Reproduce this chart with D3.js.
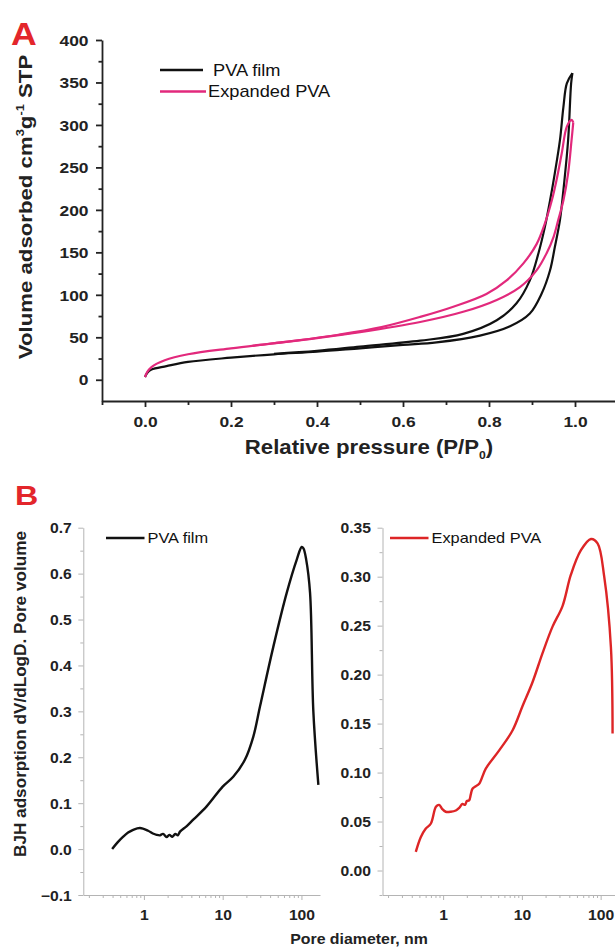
<!DOCTYPE html>
<html><head><meta charset="utf-8">
<script src="https://cdn.jsdelivr.net/npm/d3@7"></script>
<style>body{margin:0;background:#fff}svg{display:block}</style>
</head><body><svg id="c" width="615" height="949"></svg>
<script>
// ---- Panel A: N2 isotherms (P/P0, volume adsorbed) ----
const filmAdsP = [0, 0.005, 0.015, 0.05, 0.1, 0.2, 0.3, 0.4, 0.5, 0.6, 0.678, 0.779, 0.849, 0.895, 0.922, 0.942, 0.953, 0.965, 0.973, 0.984, 0.991, 0.994];
const filmAdsV = [3, 8, 12, 16, 21, 26, 30, 33, 37, 41, 44, 52, 63, 78, 101, 129, 156, 188, 223, 282, 349, 361];
const filmDesP = [0.3, 0.4, 0.5, 0.64, 0.74, 0.818, 0.864, 0.895, 0.915, 0.93, 0.942, 0.953, 0.965, 0.973, 0.981, 0.994];
const filmDesV = [30.5, 34, 39, 46, 54, 70, 90, 117, 149, 180, 211, 243, 282, 321, 349, 361];
const expAdsP = [0, 0.005, 0.015, 0.046, 0.1, 0.2, 0.3, 0.4, 0.5, 0.64, 0.74, 0.818, 0.872, 0.911, 0.934, 0.95, 0.961, 0.973, 0.984, 0.992, 0.996];
const expAdsV = [3, 9, 15, 23, 30, 37, 43, 49, 56, 68, 80, 94, 109, 129, 149, 168, 188, 211, 243, 282, 303];
const expDesP = [0.25, 0.35, 0.45, 0.55, 0.64, 0.717, 0.794, 0.841, 0.88, 0.911, 0.93, 0.946, 0.957, 0.969, 0.981, 0.992, 0.996];
const expDesV = [40, 46, 53, 62, 74, 86, 101, 117, 137, 160, 184, 211, 235, 266, 298, 306, 303];
const xTicksA = [0, 0.2, 0.4, 0.6, 0.8, 1.0];
const xMinorA = [-0.1, 0.1, 0.3, 0.5, 0.7, 0.9];
const yTicksA = [0, 50, 100, 150, 200, 250, 300, 350, 400];
const yMinorA = [25, 75, 125, 175, 225, 275, 325, 375];
// ---- Panel B: BJH pore size distribution ----
const filmD = [0.395, 0.46, 0.546, 0.63, 0.73, 0.89, 1.13, 1.3, 1.45, 1.6, 1.75, 1.94, 2.1, 2.3, 2.5, 2.7, 2.87, 3.5, 4.23, 6.26, 10, 13.7, 19.2, 24.5, 29.8, 44, 65, 87, 100.7, 106, 115, 128.6, 141.6, 164];
const filmDV = [0.0, 0.014, 0.027, 0.036, 0.042, 0.046, 0.040, 0.034, 0.031, 0.030, 0.033, 0.026, 0.031, 0.027, 0.033, 0.030, 0.038, 0.050, 0.064, 0.093, 0.136, 0.158, 0.195, 0.245, 0.311, 0.441, 0.558, 0.630, 0.658, 0.655, 0.630, 0.558, 0.30, 0.14];
const expD = [0.45, 0.52, 0.60, 0.70, 0.81, 0.89, 0.97, 1.08, 1.25, 1.45, 1.6, 1.76, 1.9, 2.0, 2.14, 2.25, 2.36, 2.6, 2.87, 3.48, 5.15, 7.6, 10.2, 13.6, 18.3, 24.5, 32.8, 41.9, 56.2, 75.3, 91.4, 111, 135, 141.7];
const expDV = [0.019, 0.034, 0.0426, 0.048, 0.065, 0.067, 0.063, 0.060, 0.060, 0.0613, 0.064, 0.068, 0.067, 0.071, 0.0716, 0.078, 0.0835, 0.086, 0.0886, 0.104, 0.1227, 0.143, 0.168, 0.192, 0.222, 0.249, 0.270, 0.302, 0.327, 0.3385, 0.334, 0.300, 0.228, 0.14];
const xTicksB = [1, 10, 100];
const yTicksBL = [-0.1, 0, 0.1, 0.2, 0.3, 0.4, 0.5, 0.6, 0.7];
const yMinorBL = [-0.05, 0.05, 0.15, 0.25, 0.35, 0.45, 0.55, 0.65];
const yTicksBR = [0, 0.05, 0.10, 0.15, 0.20, 0.25, 0.30, 0.35];
const yMinorBR = [-0.025, 0.025, 0.075, 0.125, 0.175, 0.225, 0.275, 0.325];

const BLACK = "#111", PINK = "#e2297c", RED = "#dd2526", LABELRED = "#e3262b";
const FONT = "'Liberation Sans', Arial, sans-serif";
const svg = d3.select("#c");
svg.append("rect").attr("width", 615).attr("height", 949).attr("fill", "#fff");

function zip(a, b) { return a.map((v, i) => [v, b[i]]); }
function stretch(sel, sx) {
  sel.each(function () {
    const t = d3.select(this);
    const x = +t.attr("x") || 0;
    t.attr("x", x / sx).attr("transform", `scale(${sx},1)`);
  });
}
function label(g, x, y, txt, opts) {
  const gg = g.append("g").attr("transform", `translate(${x},${y})`);
  const t = gg.append("text").attr("font-family", FONT).attr("font-size", opts.size)
    .attr("font-weight", opts.weight || "normal").attr("fill", opts.fill || "#111")
    .attr("text-anchor", opts.anchor || "start")
    .attr("transform", `scale(${opts.sx || 1},1)`).text(txt);
  return t;
}

// ================= Panel A =================
const xA = d3.scaleLinear([-0.1, 1.1], [102, 618]);
const yA = d3.scaleLinear([-25, 400], [401, 40]);
const gA = svg.append("g");

function styleAxis(g, color, width) {
  g.select(".domain").attr("stroke", color).attr("stroke-width", width);
  g.selectAll(".tick line").attr("stroke", color).attr("stroke-width", width);
}
const axXA = gA.append("g").attr("transform", `translate(0,${yA(-25)})`)
  .call(d3.axisBottom(xA).tickValues(xTicksA).tickSize(6).tickSizeOuter(0).tickFormat(d3.format(".1f")));
const axXAm = gA.append("g").attr("transform", `translate(0,${yA(-25)})`)
  .call(d3.axisBottom(xA).tickValues(xMinorA).tickSize(4).tickSizeOuter(0).tickFormat(""));
axXAm.select(".domain").remove();
const axYA = gA.append("g").attr("transform", `translate(${xA(-0.1)},0)`)
  .call(d3.axisLeft(yA).tickValues(yTicksA).tickSize(6).tickSizeOuter(0));
const axYAm = gA.append("g").attr("transform", `translate(${xA(-0.1)},0)`)
  .call(d3.axisLeft(yA).tickValues(yMinorA).tickSize(3.5).tickSizeOuter(0).tickFormat(""));
axYAm.select(".domain").remove();
[axXA, axXAm, axYA, axYAm].forEach(a => styleAxis(a, "#222", 1.8));
axXA.selectAll("text").attr("font-family", FONT).attr("font-size", 14.5).attr("font-weight", "bold")
  .attr("fill", "#222").attr("y", 26.5).attr("dy", 0);
stretch(axXA.selectAll("text"), 1.2);
axYA.selectAll("text").attr("font-family", FONT).attr("font-size", 14.5).attr("font-weight", "bold")
  .attr("fill", "#222").attr("x", -13.5).attr("dy", "0.36em");
stretch(axYA.selectAll("text"), 1.2);

const lineA = d3.line().x(d => xA(d[0])).y(d => yA(d[1])).curve(d3.curveCatmullRom.alpha(0.5));
[[filmAdsP, filmAdsV, BLACK], [filmDesP, filmDesV, BLACK], [expAdsP, expAdsV, PINK], [expDesP, expDesV, PINK]]
  .forEach(([p, v, c]) => gA.append("path").attr("d", lineA(zip(p, v))).attr("fill", "none")
    .attr("stroke", c).attr("stroke-width", 2.2).attr("stroke-linejoin", "round"));

// legend A
gA.append("line").attr("x1", 160).attr("x2", 203).attr("y1", 70).attr("y2", 70).attr("stroke", BLACK).attr("stroke-width", 2.5);
gA.append("line").attr("x1", 160).attr("x2", 206).attr("y1", 91.5).attr("y2", 91.5).attr("stroke", PINK).attr("stroke-width", 2.5);
label(gA, 213, 75.8, "PVA film", { size: 16, sx: 1.14 });
label(gA, 208, 97.3, "Expanded PVA", { size: 16, sx: 1.14 });

// titles A
const xtA = label(gA, 369, 454, "Relative pressure (P/P", { size: 20, weight: "bold", sx: 1.11, anchor: "middle", fill: "#222" });
xtA.append("tspan").attr("font-size", 11).attr("dy", 5).text("0");
xtA.append("tspan").attr("dy", -5).text(")");
const ytA = gA.append("text").attr("transform", "translate(32,207) rotate(-90) scale(1.17,1)")
  .attr("font-family", FONT).attr("font-size", 19).attr("font-weight", "bold").attr("fill", "#222")
  .attr("text-anchor", "middle");
ytA.append("tspan").text("Volume adsorbed cm");
ytA.append("tspan").attr("font-size", 11).attr("dy", -8).text("3");
ytA.append("tspan").attr("dy", 8).text("g");
ytA.append("tspan").attr("font-size", 11).attr("dy", -8).text("-1");
ytA.append("tspan").attr("dy", 8).text(" STP");
label(gA, 11, 45, "A", { size: 31, weight: "bold", sx: 1.15, fill: LABELRED });

// ================= Panel B =================
const gB = svg.append("g");
const yL = d3.scaleLinear([-0.1, 0.7], [895, 527.7]);
const yR = d3.scaleLinear([-0.025, 0.35], [895, 527.7]);
const xL = d3.scaleLog([0.17, 172], [83.3, 320]);
const xR = d3.scaleLog([0.17, 172], [382.5, 619.2]);
const GRAY = "#b4b4b4";

function panelB(xs, ys, yMajor, yMinor, fmt, d, v, color, legendTxt, lx) {
  const x0 = xs.range()[0];
  const axX = gB.append("g").attr("transform", `translate(0,895)`)
    .call(d3.axisBottom(xs).tickValues(xTicksB).tickSize(5).tickSizeOuter(0).tickFormat(d3.format("d")));
  const minorVals = xs.ticks().filter(t => !xTicksB.includes(t));
  const axXm = gB.append("g").attr("transform", `translate(0,895)`)
    .call(d3.axisBottom(xs).tickValues(minorVals).tickSize(3).tickSizeOuter(0).tickFormat(""));
  axXm.select(".domain").remove();
  const axY = gB.append("g").attr("transform", `translate(${x0},0)`)
    .call(d3.axisLeft(ys).tickValues(yMajor).tickSize(5).tickSizeOuter(0).tickFormat(d3.format(fmt)));
  const axYm = gB.append("g").attr("transform", `translate(${x0},0)`)
    .call(d3.axisLeft(ys).tickValues(yMinor).tickSize(3).tickSizeOuter(0).tickFormat(""));
  axYm.select(".domain").remove();
  [axX, axXm, axY, axYm].forEach(a => styleAxis(a, GRAY, 1));
  axX.selectAll("text").attr("font-family", FONT).attr("font-size", 14).attr("font-weight", "bold")
    .attr("fill", "#222").attr("y", 25.5).attr("dy", 0);
  stretch(axX.selectAll("text"), 1.12);
  axY.selectAll("text").attr("font-family", FONT).attr("font-size", 14).attr("font-weight", "bold")
    .attr("fill", "#222").attr("x", -11.5).attr("dy", "0.36em");
  stretch(axY.selectAll("text"), 1.12);
  const line = d3.line().x(p => xs(p[0])).y(p => ys(p[1])).curve(d3.curveCatmullRom.alpha(0.5));
  gB.append("path").attr("d", line(zip(d, v))).attr("fill", "none").attr("stroke", color)
    .attr("stroke-width", 2.4).attr("stroke-linejoin", "round");
  gB.append("line").attr("x1", lx).attr("x2", lx + 38.5).attr("y1", 538).attr("y2", 538)
    .attr("stroke", color).attr("stroke-width", 2.5);
  label(gB, lx + 41.5, 543, legendTxt, { size: 14, sx: 1.17 });
}
panelB(xL, yL, yTicksBL, yMinorBL, ".1f", filmD, filmDV, BLACK, "PVA film", 106);
panelB(xR, yR, yTicksBR, yMinorBR, ".2f", expD, expDV, RED, "Expanded PVA", 390);

label(gB, 359, 944, "Pore diameter, nm", { size: 15, weight: "bold", sx: 1.06, anchor: "middle", fill: "#222" });
gB.append("text").attr("transform", "translate(25.5,694) rotate(-90)")
  .attr("font-family", FONT).attr("font-size", 16.5).attr("font-weight", "bold").attr("fill", "#222")
  .attr("text-anchor", "middle").attr("textLength", 326).attr("lengthAdjust", "spacingAndGlyphs")
  .text("BJH adsorption dV/dLogD. Pore volume");
label(gB, 15, 505, "B", { size: 28, weight: "bold", sx: 1.15, fill: LABELRED });
</script></body></html>
